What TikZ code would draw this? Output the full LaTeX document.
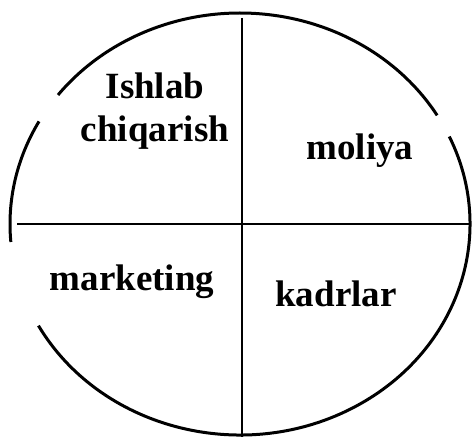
\documentclass[tikz,border=0pt]{standalone}
\usepackage{fontspec}
\setmainfont{Liberation Serif}
\usepackage{tikz}
\usetikzlibrary{positioning,calc}
\tikzset{
  rim/.style={line width=3pt, draw=black},
  divider/.style={line width=1.7pt, draw=black},
  sector/.style={align=center, font=\fontsize{37}{43}\selectfont\bfseries, inner sep=0pt, anchor=base}
}
\begin{document}
\begin{tikzpicture}[x=1pt, y=1pt]
  \useasboundingbox (0,0) rectangle (473,437);
  \coordinate (centre) at (240,213);
  % broken outline
  \draw[rim] ($(centre)+(31:230 and 211)$) arc[start angle=31, end angle=142.3, x radius=230, y radius=211];
  \draw[rim] ($(centre)+(150.9:230 and 211)$) arc[start angle=150.9, end angle=184.9, x radius=230, y radius=211];
  \draw[rim] ($(centre)+(208.8:230 and 211)$) arc[start angle=208.8, end angle=384.5, x radius=230, y radius=211];
  % cross
  \coordinate (west) at (17,213);
  \coordinate (east) at (470,213);
  \coordinate (north) at (242,419);
  \coordinate (south) at (242,0);
  \draw[divider] (west) -- (east);
  \draw[divider] (north) -- (south);
  % sectors
  \node[sector] (ishlab) at (155,295) {Ishlab\\chiqarish};
  \node[sector] (moliya) at (360,277) {moliya};
  \node[sector] (marketing) at (132,147) {marketing};
  \node[sector] (kadrlar) at (336,131) {kadrlar};
\end{tikzpicture}
\end{document}
